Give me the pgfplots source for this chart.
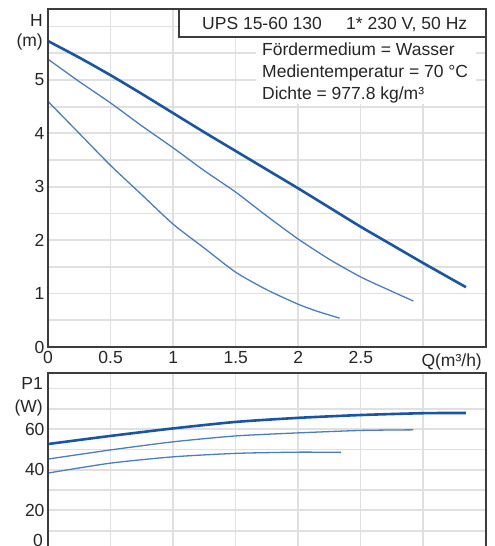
\documentclass[border=0pt]{standalone}
\usepackage{fontspec}
\setmainfont{Liberation Sans}
\usepackage{pgfplots}
\pgfplotsset{compat=1.18}

\definecolor{thickblue}{RGB}{25,85,165}
\definecolor{thinblue}{RGB}{75,125,192}
\definecolor{framegray}{RGB}{60,60,60}

\newcommand{\lbl}{\fontsize{17.5}{20}\selectfont}

\pgfplotsset{pump/.style={
  scale only axis, width=438pt, xmin=0, xmax=3.5,
  axis line style={framegray, line width=1.2pt},
  major tick length=0pt, minor tick length=0pt,
  tick label style={font=\lbl, color=black!85},
  every axis plot/.append style={smooth, tension=0.4},
  clip=false}}

\begin{document}
\begin{tikzpicture}
\useasboundingbox (0pt,0pt) rectangle (495pt,546pt);

% grid behind both axes (62.5pt per 0.5 m3/h)
\begin{scope}[line width=1.8pt, draw=black!12]
\foreach \gx in {110.5,173,235.5,298,360.5,423} {
  \draw (\gx pt,199pt) -- (\gx pt,537pt);
  \draw (\gx pt,-5pt) -- (\gx pt,173pt);}
\foreach \gy in {225.7,252.4,279.1,305.8,332.5,359.2,385.9,412.6,439.3,466,492.7,519.4} {
  \draw (48pt,\gy pt) -- (486pt,\gy pt);}
\foreach \gy in {15.3,35.6,55.9,76.2,96.5,116.8,137.1,157.4} {
  \draw (48pt,\gy pt) -- (486pt,\gy pt);}
\end{scope}

% Q-H curves
\begin{axis}[pump, at={(48pt,199pt)}, anchor=south west, height=338pt,
  ymin=0, ymax=6.33,
  xtick={0,0.5,1,1.5,2,2.5,3}, xticklabels={0,0.5,1,1.5,2,2.5,},
  ytick={0,1,2,3,4,5,6}, yticklabels={0,1,2,3,4,5,},
  xticklabel style={yshift=-1pt}]
\addplot[thinblue, line width=1.3pt] coordinates {(0,4.6) (0.25,4.0) (0.5,3.4) (0.75,2.85) (1,2.3) (1.25,1.85) (1.5,1.4) (1.75,1.07) (2,0.8) (2.15,0.67) (2.33,0.54)};
\addplot[thinblue, line width=1.3pt] coordinates {(0,5.39) (0.25,4.97) (0.5,4.57) (0.75,4.14) (1,3.73) (1.25,3.3) (1.5,2.9) (1.75,2.45) (2,2.02) (2.25,1.64) (2.5,1.31) (2.75,1.04) (2.92,0.86)};
\addplot[thickblue, line width=2.6pt] coordinates {(0,5.73) (0.25,5.42) (0.5,5.09) (0.75,4.74) (1,4.38) (1.25,4.02) (1.5,3.67) (1.75,3.32) (2,2.97) (2.25,2.61) (2.5,2.25) (2.75,1.91) (3,1.57) (3.34,1.12)};
\draw[framegray, line width=2.6pt] (rel axis cs:0,1) -- (rel axis cs:0,0) -- (rel axis cs:1,0);
\end{axis}

% Q-P1 curves
\begin{axis}[pump, at={(48pt,-5pt)}, anchor=south west, height=178pt,
  ymin=0, ymax=87.7,
  xtick={0,0.5,1,1.5,2,2.5,3}, xticklabels={},
  ytick={0,20,40,60}, yticklabels={,20,40,60}]
\addplot[thinblue, line width=1.3pt] coordinates {(0,38.4) (0.5,43.3) (1,46.4) (1.5,48.1) (2,48.7) (2.34,48.6)};
\addplot[thinblue, line width=1.3pt] coordinates {(0,45.3) (0.5,49.8) (1,53.8) (1.5,56.7) (2,58.2) (2.5,59.4) (2.92,59.7)};
\addplot[thickblue, line width=2.6pt] coordinates {(0,52.7) (0.5,56.7) (1,60.4) (1.5,63.6) (2,65.6) (2.5,67) (3,67.9) (3.34,68)};
\draw[framegray, line width=2.6pt] (rel axis cs:0,1) -- (rel axis cs:0,0);
\draw[framegray, line width=2.2pt] (rel axis cs:1,1) -- (rel axis cs:1,0);
\end{axis}

% labels and info box
\fill[white] (256pt,509pt) rectangle (476pt,442pt);
\draw[framegray, line width=1.2pt, fill=white] (179pt,537pt) rectangle (486pt,509pt);
\draw[framegray, line width=2pt] (179pt,537pt) -- (179pt,509pt);
\begin{scope}[every node/.style={font=\lbl, text=black!85, inner sep=0pt}]
\node[anchor=base west] at (202pt,516pt) {UPS 15-60 130};
\node[anchor=base west] at (346pt,516pt) {1* 230 V, 50 Hz};
\node[anchor=base west] at (262pt,490pt) {Fördermedium = Wasser};
\node[anchor=base west] at (262pt,468pt) {Medientemperatur = 70 °C};
\node[anchor=base west] at (262pt,446pt) {Dichte = 977.8 kg/m³};
\node[anchor=east] at (43pt,526pt) {H};
\node[anchor=east] at (43pt,504pt) {(m)};
\node[anchor=east] at (43pt,163pt) {P1};
\node[anchor=east] at (43pt,138pt) {(W)};
\node[anchor=east] at (43pt,6pt) {0};
\node[anchor=base east] at (482pt,179pt) {Q(m³/h)};
\end{scope}
\end{tikzpicture}
\end{document}
